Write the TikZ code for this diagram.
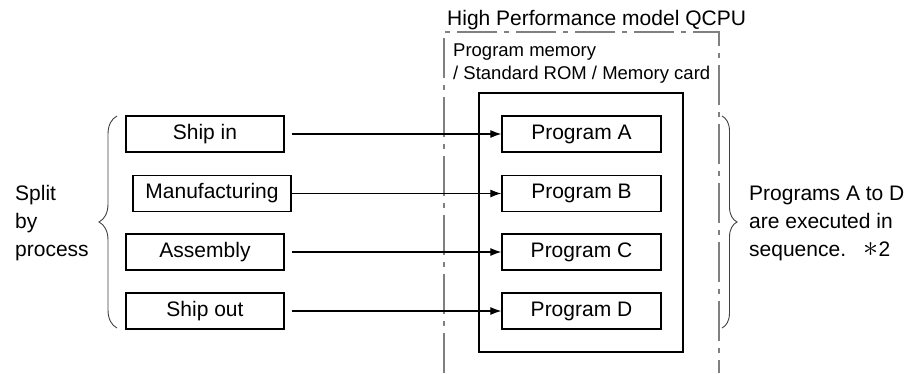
\documentclass[tikz,border=0pt]{standalone}
\usepackage{fontspec}
\usepackage{graphicx}
\setmainfont{Liberation Sans}
\usetikzlibrary{arrows.meta,decorations.pathreplacing}

\begin{document}
\begin{tikzpicture}[x=1pt,y=-1pt,
  font=\fontsize{21}{28}\selectfont,
  procbox/.style={draw, line width=1.3pt, minimum width=158pt, minimum height=36pt, inner sep=0pt},
  progbox/.style={procbox, minimum width=159pt},
  link/.style={line width=1.2pt, -{Latex[length=11pt,width=8pt]}},
  curly/.style={decorate, decoration={brace, amplitude=#1}, line width=0.9pt, black!75},
  frame/.style={black!50, line width=1.2pt, dash pattern=on 40pt off 7pt on 5pt off 7pt},
  caption/.style={inner sep=0pt, align=left},
  small/.style={font=\fontsize{18.5}{23}\selectfont}]

\useasboundingbox (0,0) rectangle (921,373);

% CPU outline (open at the bottom) and its label
\draw[frame] (444,373) -- (444,32) -- (719,32) -- (719,373);
\node[caption, anchor=base west] (cpu) at (447,25) {High Performance model QCPU};
\node[caption, small, anchor=base west] (memA) at (453,56) {Program memory};
\node[caption, small, anchor=base west] (memB) at (453,79) {/ Standard ROM / Memory card};

% memory area holding the programs
\node[draw, line width=1.8pt, minimum width=204pt, minimum height=259pt, inner sep=0pt] (mem) at (581,222.5) {};

% processes
\node[procbox] (sin)  at (205,134)   {Ship in};
\node[procbox] (mf)   at (212,193.5) {Manufacturing};
\node[procbox] (asm)  at (205,252)   {Assembly};
\node[procbox] (sout) at (205,311)   {Ship out};

% programs
\node[progbox] (pA) at (581.5,134)   {Program A};
\node[progbox] (pB) at (581.5,193.5) {Program B};
\node[progbox] (pC) at (581.5,252)   {Program C};
\node[progbox] (pD) at (581.5,311)   {Program D};

% one program per process
\draw[link] (sin.east -| mf.east) -- (pA.west);
\draw[link] (mf.east) -- (pB.west);
\draw[link] (asm.east -| mf.east) -- (pC.west);
\draw[link] (sout.east -| mf.east) -- (pD.west);

% grouping braces and notes
\draw[curly=18pt] (117,328) -- (117,116);
\node[caption, anchor=west] (split) at (15,223.5) {Split\\by\\process};

\draw[curly=15pt] (722,116) -- (722,328);
\node[caption, anchor=west] (seq) at (749,223.5)
  {Programs A to D\\are executed in\\sequence.\hspace{17pt}\smash{\scalebox{1.45}{$\ast$}}\hspace{0.5pt}2};
\end{tikzpicture}
\end{document}
